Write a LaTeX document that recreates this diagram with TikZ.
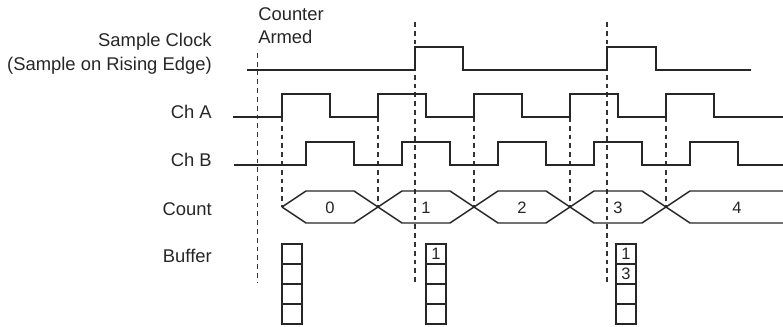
\documentclass[tikz,border=0pt]{standalone}
\usepackage{fontspec}
\setmainfont{Liberation Sans}
\begin{document}
\begin{tikzpicture}[x=0.75pt,y=-0.75pt,
  sig/.style={line width=1.1pt, line join=miter, color=black!85},
  guide/.style={line width=0.9pt, dash pattern=on 3.6pt off 3pt, color=black!80},
  lbl/.style={font=\fontsize{13.8}{16}\selectfont, inner sep=0pt, text=black!85},
  dig/.style={font=\fontsize{12.4}{14}\selectfont, inner sep=0pt, text=black!85},
  cell/.style={draw=black!85, line width=1pt, minimum width=15pt, minimum height=15pt, inner sep=0pt, font=\fontsize{12.4}{14}\selectfont, text=black!85}]
\useasboundingbox (0,0) rectangle (783,326);

% row labels
\node[lbl, anchor=base east] (sc1) at (212,46.5) {Sample Clock};
\node[lbl, anchor=base east] (sc2) at (212,70) {(Sample on Rising Edge)};
\node[lbl, anchor=base east] (cha) at (212,118) {Ch A};
\node[lbl, anchor=base east] (chb) at (212,166) {Ch B};
\node[lbl, anchor=base east] (cnt) at (212,215) {Count};
\node[lbl, anchor=base east] (buf) at (212,262.7) {Buffer};
\node[lbl, anchor=base west] (ca1) at (258,20.5) {Counter};
\node[lbl, anchor=base west] (ca2) at (258,43.5) {Armed};

% long guide lines
\draw[guide] (257.7,53) -- (257.7,282);
\draw[guide] (415,22) -- (415,283);
\draw[guide] (607,22) -- (607,283);

% short guide lines at Ch A rising edges
\foreach \x in {282,378,474,570,666}
  \draw[guide] (\x,117) -- (\x,207);

% Sample clock
\draw[sig] (247,70) -- (415,70) -- (415,47) -- (463,47) -- (463,70)
  -- (607,70) -- (607,47) -- (656,47) -- (656,70) -- (751,70);

% Ch A
\draw[sig] (233,117) -- (282,117) -- (282,94) -- (330,94) -- (330,117)
  -- (378,117) -- (378,94) -- (426,94) -- (426,117)
  -- (474,117) -- (474,94) -- (522,94) -- (522,117)
  -- (570,117) -- (570,94) -- (618,94) -- (618,117)
  -- (666,117) -- (666,94) -- (714,94) -- (714,117) -- (783,117);

% Ch B
\draw[sig] (234,165) -- (306,165) -- (306,142) -- (354,142) -- (354,165)
  -- (402,165) -- (402,142) -- (450,142) -- (450,165)
  -- (498,165) -- (498,142) -- (546,142) -- (546,165)
  -- (594,165) -- (594,142) -- (642,142) -- (642,165)
  -- (690,165) -- (690,142) -- (738,142) -- (738,165) -- (783,165);

% Count bus
\draw[sig] (282,207) -- (306,191) -- (354,191) -- (402,223) -- (450,223)
  -- (498,191) -- (546,191) -- (594,223) -- (642,223) -- (690,191) -- (783,191);
\draw[sig] (282,207) -- (306,223) -- (354,223) -- (402,191) -- (450,191)
  -- (498,223) -- (546,223) -- (594,191) -- (642,191) -- (690,223) -- (783,223);

\node[dig] (c0) at (330,207.5) {0};
\node[dig] (c1) at (426,207.5) {1};
\node[dig] (c2) at (522,207.5) {2};
\node[dig] (c3) at (618,207.5) {3};
\node[dig] (c4) at (737,207.5) {4};

% Buffers
\foreach \bx/\nm in {292/a,436/b,626/c}
  \foreach \cy [count=\k] in {254,274,294,314}
    \node[cell] (buf\nm\k) at (\bx,\cy) {};
\node[dig] (nb1) at (bufb1) {1};
\node[dig] (nc1) at (bufc1) {1};
\node[dig] (nc2) at (bufc2) {3};
\end{tikzpicture}
\end{document}
